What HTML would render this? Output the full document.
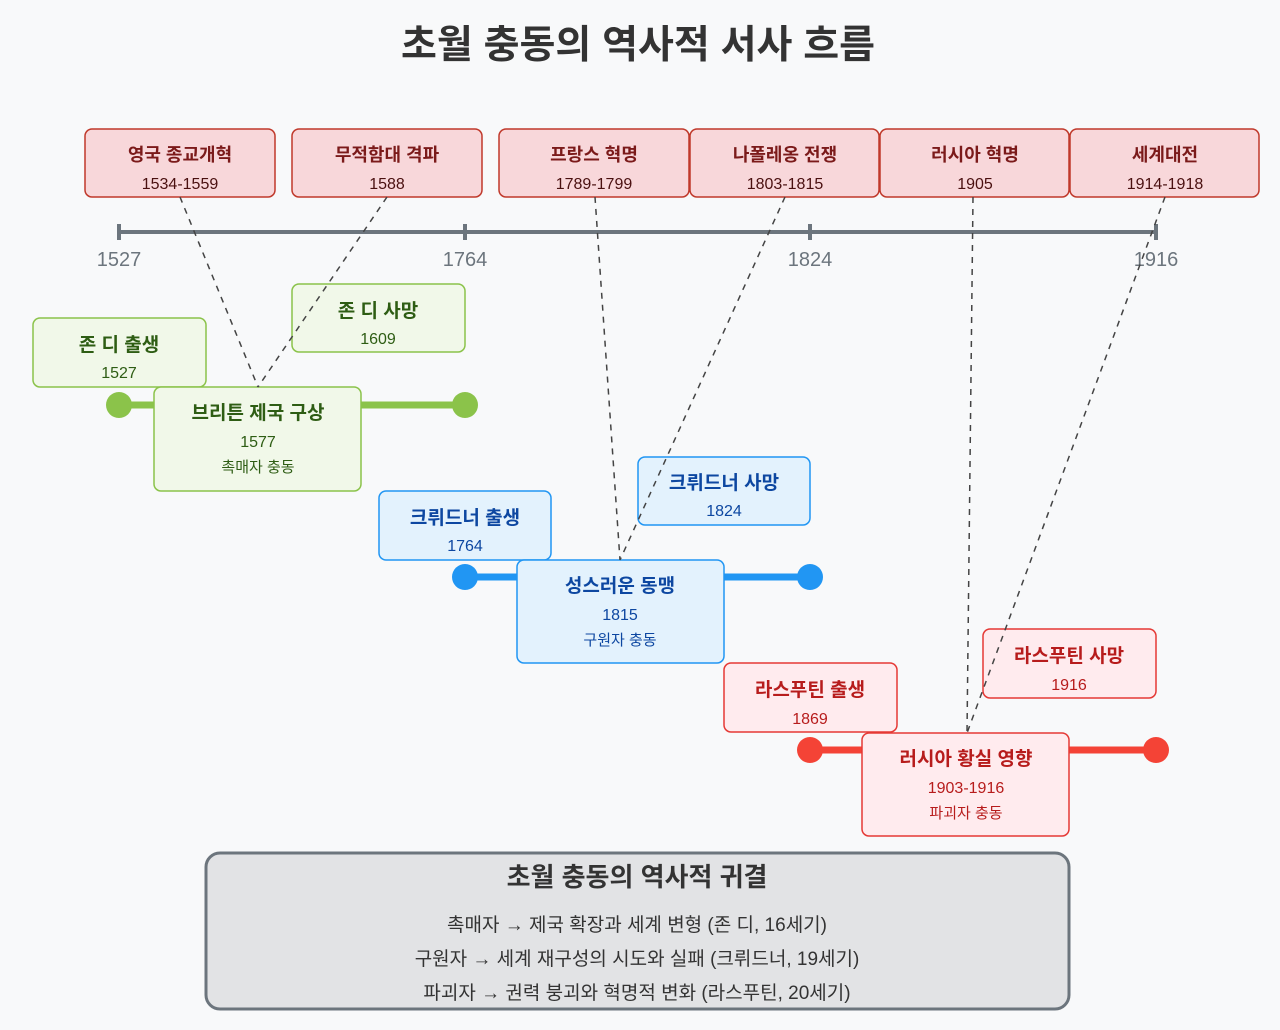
<!DOCTYPE html>
<html><head><meta charset="utf-8"><style>
body{margin:0;background:#f8f9fa}
text{font-family:"Liberation Sans","Noto Sans CJK KR",sans-serif;text-anchor:middle}
</style></head><body>
<svg width="1280" height="1025" viewBox="0 0 1280 1025" xmlns="http://www.w3.org/2000/svg">
<rect width="1280" height="1025" fill="#f8f9fa"/>
<text x="638" y="58" font-size="39" font-weight="bold" fill="#333">초월 충동의 역사적 서사 흐름</text>

<g stroke="#c0392b" stroke-width="1.5" fill="#f8d7da">
<rect x="85" y="129" width="190" height="68" rx="7"/>
<rect x="292" y="129" width="190" height="68" rx="7"/>
<rect x="499" y="129" width="190" height="68" rx="7"/>
<rect x="690" y="129" width="189" height="68" rx="7"/>
<rect x="880" y="129" width="189" height="68" rx="7"/>
<rect x="1070" y="129" width="189" height="68" rx="7"/>
</g>
<g font-size="18" font-weight="bold" fill="#7b1a1a">
<text x="180" y="161">영국 종교개혁</text><text x="387" y="161">무적함대 격파</text>
<text x="594" y="161">프랑스 혁명</text><text x="785" y="161">나폴레옹 전쟁</text>
<text x="975" y="161">러시아 혁명</text><text x="1165" y="161">세계대전</text>
</g>
<g font-size="16" fill="#4a1010">
<text x="180" y="189">1534-1559</text><text x="387" y="189">1588</text>
<text x="594" y="189">1789-1799</text><text x="785" y="189">1803-1815</text>
<text x="975" y="189">1905</text><text x="1165" y="189">1914-1918</text>
</g>

<g stroke="#6c757d" stroke-width="4">
<line x1="119" y1="232" x2="1156" y2="232"/>
<line x1="119" y1="224" x2="119" y2="240"/><line x1="465" y1="224" x2="465" y2="240"/>
<line x1="810" y1="224" x2="810" y2="240"/><line x1="1156" y1="224" x2="1156" y2="240"/>
</g>
<g font-size="20" fill="#6c757d">
<text x="119" y="266">1527</text><text x="465" y="266">1764</text>
<text x="810" y="266">1824</text><text x="1156" y="266">1916</text>
</g>

<line x1="119" y1="405" x2="465" y2="405" stroke="#8bc34a" stroke-width="7"/>
<circle cx="119" cy="405" r="13" fill="#8bc34a"/><circle cx="465" cy="405" r="13" fill="#8bc34a"/>
<line x1="465" y1="577" x2="810" y2="577" stroke="#2196f3" stroke-width="7"/>
<circle cx="465" cy="577" r="13" fill="#2196f3"/><circle cx="810" cy="577" r="13" fill="#2196f3"/>
<line x1="810" y1="750" x2="1156" y2="750" stroke="#f44336" stroke-width="7"/>
<circle cx="810" cy="750" r="13" fill="#f44336"/><circle cx="1156" cy="750" r="13" fill="#f44336"/>

<g stroke="#8bc34a" stroke-width="1.5" fill="#f1f8e9">
<rect x="33" y="318" width="173" height="69" rx="7"/>
<rect x="292" y="284" width="173" height="68" rx="7"/>
<rect x="154" y="387" width="207" height="104" rx="7"/>
</g>
<g stroke="#2196f3" stroke-width="1.5" fill="#e3f2fd">
<rect x="379" y="491" width="172" height="69" rx="7"/>
<rect x="638" y="457" width="172" height="68" rx="7"/>
<rect x="517" y="560" width="207" height="103" rx="7"/>
</g>
<g stroke="#e53935" stroke-width="1.5" fill="#ffebee">
<rect x="724" y="663" width="173" height="69" rx="7"/>
<rect x="983" y="629" width="173" height="69" rx="7"/>
<rect x="862" y="733" width="207" height="103" rx="7"/>
</g>

<g font-weight="bold" font-size="19" fill="#2e5d14">
<text x="119" y="351">존 디 출생</text><text x="378" y="317">존 디 사망</text><text x="258" y="419">브리튼 제국 구상</text>
</g>
<g font-size="16" fill="#2e5d14">
<text x="119" y="378">1527</text><text x="378" y="344">1609</text><text x="258" y="447">1577</text>
<text x="258" y="472" font-size="15">촉매자 충동</text>
</g>
<g font-weight="bold" font-size="19" fill="#0d47a1">
<text x="465" y="524">크뤼드너 출생</text><text x="724" y="489">크뤼드너 사망</text><text x="620" y="592">성스러운 동맹</text>
</g>
<g font-size="16" fill="#0d47a1">
<text x="465" y="551">1764</text><text x="724" y="516">1824</text><text x="620" y="620">1815</text>
<text x="620" y="645" font-size="15">구원자 충동</text>
</g>
<g font-weight="bold" font-size="19" fill="#b71c1c">
<text x="810" y="696">라스푸틴 출생</text><text x="1069" y="662">라스푸틴 사망</text><text x="966" y="765">러시아 황실 영향</text>
</g>
<g font-size="16" fill="#b71c1c">
<text x="810" y="724">1869</text><text x="1069" y="690">1916</text><text x="966" y="793">1903-1916</text>
<text x="966" y="818" font-size="15">파괴자 충동</text>
</g>

<g stroke="#444" stroke-width="1.5" stroke-dasharray="6,6" fill="none">
<line x1="180" y1="197" x2="258" y2="387"/><line x1="387" y1="197" x2="258" y2="387"/>
<line x1="595" y1="197" x2="620" y2="560"/><line x1="785" y1="197" x2="620" y2="560"/>
<line x1="973" y1="197" x2="967" y2="733"/><line x1="1165" y1="197" x2="967" y2="733"/>
</g>

<rect x="206" y="853" width="863" height="156" rx="14" fill="#e2e3e5" stroke="#6c757d" stroke-width="3"/>
<text x="637" y="886" font-size="26" font-weight="bold" fill="#333">초월 충동의 역사적 귀결</text>
<g font-size="19" fill="#333">
<text x="637" y="931">촉매자 → 제국 확장과 세계 변형 (존 디, 16세기)</text>
<text x="637" y="965">구원자 → 세계 재구성의 시도와 실패 (크뤼드너, 19세기)</text>
<text x="637" y="999">파괴자 → 권력 붕괴와 혁명적 변화 (라스푸틴, 20세기)</text>
</g>
</svg>
</body></html>
